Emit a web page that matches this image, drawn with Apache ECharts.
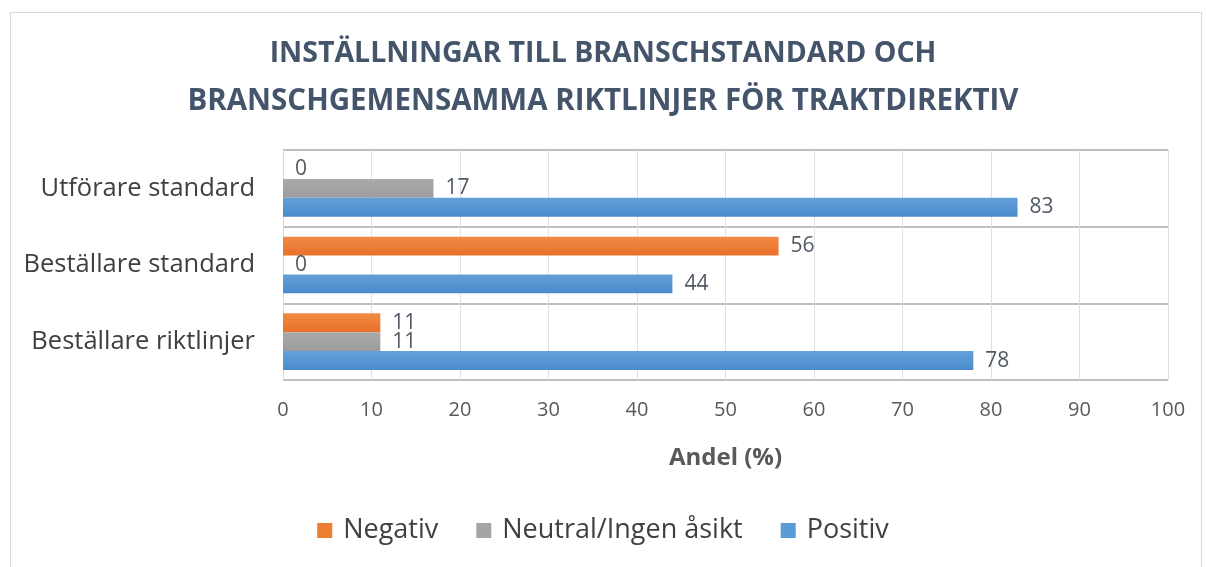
<!DOCTYPE html>
<html><head><meta charset="utf-8">
<script src="https://cdn.jsdelivr.net/npm/echarts@6/dist/echarts.min.js"></script>
<style>
html,body{margin:0;padding:0;background:#fff;}
#frame{position:absolute;left:10px;top:12px;width:1192px;height:560px;border:1px solid #d9d9d9;box-sizing:border-box;}
#c{position:absolute;left:0;top:0;width:1206px;height:567px;}
</style></head>
<body><div id="frame"></div><div id="c"></div>
<script>
const categories = ['Utförare standard', 'Beställare standard', 'Beställare riktlinjer'];
const seriesNames = ['Negativ', 'Neutral/Ingen åsikt', 'Positiv'];
const negativ = [0, 56, 11];
const neutral = [17, 0, 11];
const positiv = [83, 44, 78];
const xTicks = [0, 10, 20, 30, 40, 50, 60, 70, 80, 90, 100];

const font = '"Open Sans", "Noto Sans", sans-serif';
function grad(a, b) {
  return new echarts.graphic.LinearGradient(0, 0, 0, 1, [{offset: 0, color: a}, {offset: 1, color: b}]);
}
const colors = [grad('#f08a45', '#e8712a'), grad('#aaaaaa', '#9c9c9c'), grad('#62a0d8', '#4b8bcb')];
const legendColors = ['#ED7D31', '#A5A5A5', '#5B9BD5'];
const vals = [negativ, neutral, positiv];

const chart = echarts.init(document.getElementById('c'));
chart.setOption({
  animation: false,
  title: {
    text: '{a|INSTÄLLNINGAR TILL BRANSCHSTANDARD OCH}\n{b|BRANSCHGEMENSAMMA RIKTLINJER FÖR TRAKTDIREKTIV}',
    left: 'center', top: 25,
    textStyle: {
      fontFamily: font, fontWeight: 'bold', fontSize: 28, color: '#44546A', lineHeight: 48,
      rich: {
        a: {fontFamily: font, fontWeight: 'bold', fontSize: 28.5, color: '#44546A', lineHeight: 48},
        b: {fontFamily: font, fontWeight: 'bold', fontSize: 29.5, color: '#44546A', lineHeight: 48}
      }
    }
  },
  legend: {
    bottom: 18, left: 'center', itemWidth: 15, itemHeight: 15, itemGap: 38,
    icon: 'rect',
    textStyle: {fontFamily: font, fontSize: 27, color: '#404040', padding: [0, 0, 0, 6]},
    data: seriesNames.map((n, i) => ({name: n, itemStyle: {color: legendColors[i]}}))
  },
  grid: {left: 283, right: 38, top: 150, bottom: 187},
  xAxis: {
    type: 'value', min: 0, max: 100, interval: 10,
    name: 'Andel (%)', nameLocation: 'middle', nameGap: 66,
    nameTextStyle: {fontFamily: font, fontWeight: 'bold', fontSize: 24, color: '#595959'},
    axisLine: {show: false}, axisTick: {show: false},
    axisLabel: {fontFamily: font, fontSize: 20, color: '#595959', margin: 20,
      formatter: v => xTicks.includes(v) ? String(v) : ''},
    splitLine: {lineStyle: {color: '#e0e0e0', width: 1}}
  },
  yAxis: {
    type: 'category', data: categories, inverse: true,
    axisLine: {show: true, lineStyle: {color: '#d9d9d9'}},
    axisTick: {show: false},
    axisLabel: {fontFamily: font, fontSize: 25.5, color: '#404040', margin: 28},
    splitLine: {show: true, lineStyle: {color: '#bfbfbf', width: 2}}
  },
  series: seriesNames.map((n, i) => ({
    name: n, type: 'bar', data: vals[i],
    barGap: '0%', barCategoryGap: '26%',
    itemStyle: {color: colors[i]},
    label: {show: true, position: 'right', distance: 12, fontFamily: font, fontSize: 21, color: '#505a66'}
  }))
});
</script></body></html>
